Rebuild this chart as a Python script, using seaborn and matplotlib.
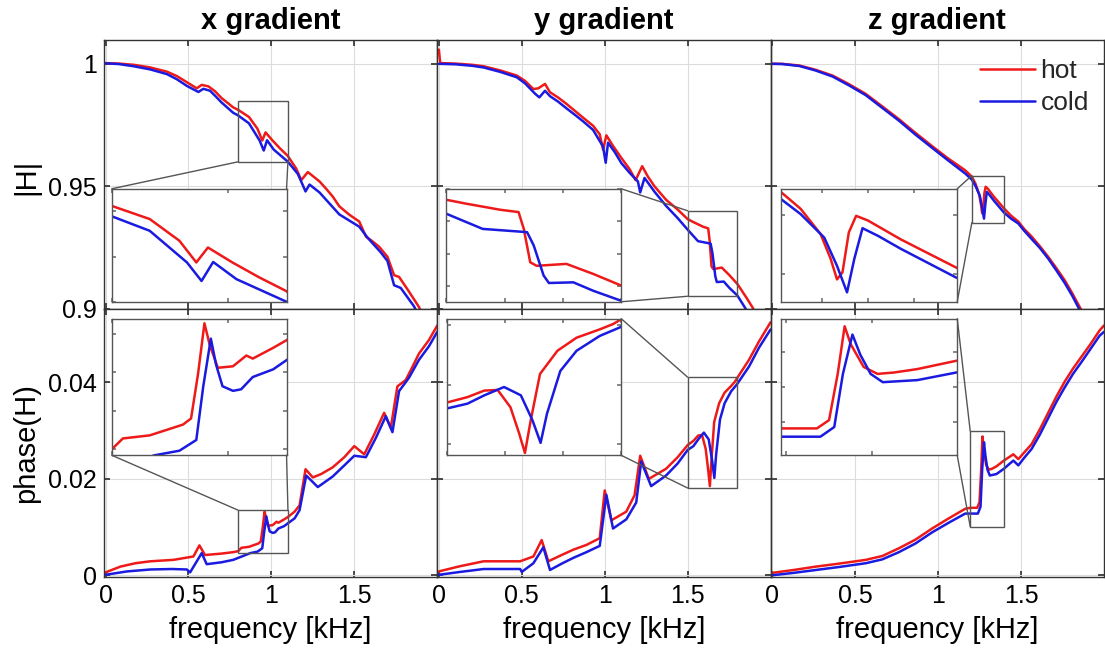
import matplotlib
matplotlib.use("Agg")
import matplotlib.pyplot as plt
import seaborn as sns
from matplotlib.patches import Rectangle, ConnectionPatch

sns.set_theme(style="ticks")
plt.rcParams['font.family'] = ['Liberation Sans', 'DejaVu Sans']

RED = '#ee1a1a'
BLUE = '#1a1ae0'
BOX = '#555555'

gradients = ["x gradient", "y gradient", "z gradient"]

# ---- |H| (top row) ----
mag_x_hot_f = [0, 0.08, 0.17, 0.27, 0.37, 0.43, 0.49, 0.55, 0.58, 0.62, 0.66, 0.70, 0.77, 0.80, 0.865, 0.916,
               0.945, 0.965, 1.007, 1.053, 1.099, 1.15, 1.18, 1.22, 1.29, 1.33, 1.37, 1.41, 1.47, 1.53, 1.57,
               1.61, 1.65, 1.70, 1.74, 1.77, 1.83, 1.89, 1.95]
mag_x_hot = [1.0003, 1.0001, 0.9996, 0.9985, 0.9968, 0.9950, 0.9925, 0.9900, 0.9914, 0.9908, 0.9888, 0.9860,
             0.9822, 0.9812, 0.9783, 0.9735, 0.9687, 0.9720, 0.9687, 0.9654, 0.9624, 0.9572, 0.9525, 0.9558,
             0.9520, 0.9490, 0.9458, 0.9418, 0.9384, 0.9356, 0.9295, 0.9275, 0.9253, 0.9212, 0.9137, 0.9130,
             0.9070, 0.9007, 0.8920]
mag_x_cold_f = [0, 0.08, 0.17, 0.27, 0.37, 0.43, 0.49, 0.56, 0.59, 0.63, 0.66, 0.70, 0.77, 0.80, 0.865, 0.929,
                0.954, 0.974, 1.014, 1.10, 1.16, 1.206, 1.23, 1.29, 1.35, 1.41, 1.47, 1.53, 1.58, 1.62, 1.66,
                1.70, 1.74, 1.78, 1.86, 1.92]
mag_x_cold = [1.0002, 0.9999, 0.9990, 0.9977, 0.9958, 0.9937, 0.9910, 0.9885, 0.9898, 0.9890, 0.9870, 0.9842,
              0.9800, 0.9789, 0.9757, 0.9687, 0.9646, 0.9688, 0.9650, 0.9600, 0.9550, 0.9479, 0.9507, 0.9475,
              0.9430, 0.9385, 0.9360, 0.9335, 0.9290, 0.9260, 0.9230, 0.9195, 0.9096, 0.9085, 0.9010, 0.8930]

mag_y_hot_f = [0, 0.008, 0.10, 0.20, 0.27, 0.37, 0.47, 0.52, 0.57, 0.60, 0.64, 0.67, 0.72, 0.77, 0.82, 0.87,
               0.93, 0.97, 0.99, 1.01, 1.05, 1.10, 1.15, 1.186, 1.226, 1.26, 1.30, 1.37, 1.44, 1.50, 1.534,
               1.593, 1.624, 1.633, 1.644, 1.655, 1.706, 1.752, 1.80, 1.85, 1.89, 1.95]
mag_y_hot = [1.0058, 1.0003, 1.0001, 0.9996, 0.9990, 0.9973, 0.9952, 0.9930, 0.9897, 0.9900, 0.9918, 0.9884,
             0.9862, 0.9836, 0.9808, 0.9780, 0.9747, 0.9712, 0.9650, 0.9708, 0.9665, 0.9616, 0.9570, 0.9525,
             0.9582, 0.9540, 0.9500, 0.9445, 0.9405, 0.9366, 0.9354, 0.9335, 0.9328, 0.9276, 0.9173, 0.9162,
             0.9168, 0.9137, 0.9101, 0.9050, 0.9007, 0.8930]
mag_y_cold_f = [0, 0.10, 0.20, 0.27, 0.37, 0.47, 0.52, 0.58, 0.606, 0.64, 0.67, 0.72, 0.77, 0.82, 0.87, 0.93,
                0.99, 1.006, 1.02, 1.06, 1.10, 1.15, 1.20, 1.214, 1.24, 1.30, 1.37, 1.44, 1.50, 1.5625, 1.6386,
                1.65, 1.667, 1.676, 1.718, 1.752, 1.80, 1.85, 1.90]
mag_y_cold = [1.0, 0.9998, 0.9992, 0.9985, 0.9967, 0.9945, 0.9920, 0.9878, 0.9863, 0.9890, 0.9868, 0.9845,
              0.9818, 0.9792, 0.9765, 0.9730, 0.9662, 0.9596, 0.9678, 0.9640, 0.9595, 0.9555, 0.9520, 0.9475,
              0.9534, 0.9478, 0.9420, 0.9370, 0.9323, 0.9276, 0.9266, 0.9225, 0.9132, 0.9109, 0.9111, 0.9085,
              0.9054, 0.9000, 0.8930]

mag_z_hot_f = [0, 0.06, 0.164, 0.26, 0.364, 0.46, 0.564, 0.66, 0.764, 0.86, 0.964, 1.06, 1.164, 1.204, 1.226,
               1.248, 1.259, 1.266, 1.272, 1.279, 1.287, 1.30, 1.336, 1.397, 1.44, 1.484, 1.52, 1.564, 1.614,
               1.664, 1.714, 1.764, 1.81, 1.854, 1.92]
mag_z_hot = [1.0, 1.0, 0.9993, 0.9976, 0.9952, 0.9918, 0.9877, 0.9828, 0.9774, 0.9720, 0.9664, 0.9614, 0.9565,
             0.9539, 0.9510, 0.9467, 0.9425, 0.9390, 0.9402, 0.9470, 0.9498, 0.9490, 0.9458, 0.9410, 0.9380,
             0.9356, 0.9325, 0.9295, 0.9255, 0.9212, 0.9165, 0.9116, 0.9062, 0.9007, 0.8930]
mag_z_cold_f = [0, 0.06, 0.164, 0.26, 0.364, 0.46, 0.564, 0.66, 0.764, 0.86, 0.964, 1.06, 1.164, 1.204, 1.226,
                1.252, 1.266, 1.277, 1.285, 1.294, 1.311, 1.336, 1.397, 1.44, 1.484, 1.52, 1.564, 1.614, 1.664,
                1.714, 1.764, 1.81, 1.85, 1.92]
mag_z_cold = [1.0, 0.9999, 0.9991, 0.9973, 0.9948, 0.9913, 0.9872, 0.9822, 0.9768, 0.9713, 0.9657, 0.9606,
              0.9552, 0.9527, 0.9501, 0.9461, 0.9413, 0.9368, 0.9425, 0.9477, 0.9464, 0.9442, 0.9393, 0.9368,
              0.9348, 0.9318, 0.9285, 0.9248, 0.9205, 0.9156, 0.9105, 0.9052, 0.9000, 0.8925]

# ---- phase(H) (bottom row) ----
ph_x_hot_f = [0, 0.09, 0.18, 0.27, 0.41, 0.53, 0.566, 0.60, 0.70, 0.77, 0.80, 0.819, 0.865, 0.922, 0.936, 0.948,
              0.959, 0.968, 0.982, 1.008, 1.031, 1.042, 1.077, 1.10, 1.14, 1.17, 1.206, 1.25, 1.30, 1.37, 1.44,
              1.50, 1.56, 1.62, 1.68, 1.72, 1.76, 1.81, 1.85, 1.89, 1.95, 2.0]
ph_x_hot = [0.0006, 0.0018, 0.0025, 0.0029, 0.0032, 0.0039, 0.0062, 0.0042, 0.0045, 0.0048, 0.0050, 0.0057,
            0.0059, 0.0066, 0.0070, 0.0099, 0.0132, 0.0118, 0.0103, 0.0104, 0.0111, 0.0109, 0.0116, 0.0121,
            0.0132, 0.0145, 0.0220, 0.0203, 0.0210, 0.0224, 0.0245, 0.0268, 0.0251, 0.0292, 0.0337, 0.0306,
            0.0392, 0.0405, 0.0432, 0.0460, 0.0488, 0.0518]
ph_x_cold_f = [0, 0.13, 0.27, 0.40, 0.49, 0.51, 0.58, 0.61, 0.70, 0.77, 0.873, 0.916, 0.945, 0.957, 0.970,
               0.979, 0.99, 1.008, 1.022, 1.042, 1.077, 1.10, 1.14, 1.17, 1.21, 1.28, 1.37, 1.44, 1.50, 1.57,
               1.63, 1.69, 1.73, 1.77, 1.83, 1.89, 1.95, 2.0]
ph_x_cold = [0.0001, 0.0008, 0.0012, 0.0013, 0.0012, 0.0006, 0.0046, 0.0023, 0.0027, 0.0032, 0.0046, 0.0049,
             0.0056, 0.0091, 0.0122, 0.0105, 0.0091, 0.0088, 0.0089, 0.0097, 0.0102, 0.0108, 0.0118, 0.0135,
             0.0207, 0.0183, 0.0205, 0.0228, 0.0248, 0.0245, 0.0285, 0.0330, 0.0297, 0.0382, 0.0410, 0.0447,
             0.0475, 0.0505]

ph_y_hot_f = [0, 0.13, 0.27, 0.49, 0.57, 0.62, 0.66, 0.74, 0.81, 0.89, 0.97, 1.0, 1.04, 1.13, 1.18, 1.214,
              1.266, 1.37, 1.44, 1.50, 1.535, 1.564, 1.587, 1.609, 1.624, 1.634, 1.644, 1.66, 1.69, 1.723,
              1.763, 1.786, 1.80, 1.87, 1.93, 2.0]
ph_y_hot = [0.0008, 0.0019, 0.0029, 0.0029, 0.0039, 0.0073, 0.0029, 0.0042, 0.0053, 0.0063, 0.0077, 0.0176,
            0.0114, 0.0132, 0.0166, 0.0248, 0.0200, 0.0221, 0.0245, 0.0270, 0.0279, 0.0290, 0.0291, 0.0262,
            0.0218, 0.0185, 0.0240, 0.0318, 0.0357, 0.0379, 0.0393, 0.0402, 0.0410, 0.0447, 0.0485, 0.0525]
ph_y_cold_f = [0, 0.13, 0.27, 0.49, 0.50, 0.57, 0.63, 0.67, 0.74, 0.81, 0.89, 0.97, 1.01, 1.05, 1.13, 1.19,
               1.22, 1.28, 1.37, 1.44, 1.50, 1.535, 1.564, 1.598, 1.627, 1.647, 1.661, 1.672, 1.695, 1.723,
               1.763, 1.797, 1.87, 1.93, 2.0]
ph_y_cold = [0.0001, 0.0007, 0.0013, 0.0013, 0.0007, 0.0025, 0.0058, 0.0011, 0.0024, 0.0036, 0.0048, 0.0061,
             0.0167, 0.0097, 0.0116, 0.0151, 0.0236, 0.0185, 0.0207, 0.0232, 0.0260, 0.0268, 0.0282, 0.0296,
             0.0282, 0.0240, 0.0202, 0.0251, 0.0323, 0.0357, 0.0382, 0.0396, 0.0433, 0.0472, 0.0510]

ph_z_hot_f = [0, 0.13, 0.264, 0.40, 0.564, 0.664, 0.764, 0.864, 0.964, 1.064, 1.164, 1.194, 1.236, 1.25, 1.26,
              1.268, 1.275, 1.29, 1.306, 1.325, 1.352, 1.397, 1.454, 1.484, 1.52, 1.564, 1.614, 1.664, 1.714,
              1.764, 1.814, 1.864, 1.92, 1.974, 2.0]
ph_z_hot = [0.0005, 0.0011, 0.0018, 0.0024, 0.0032, 0.0040, 0.0056, 0.0074, 0.0097, 0.0118, 0.0138, 0.0140,
            0.0140, 0.0152, 0.0219, 0.0288, 0.0262, 0.0229, 0.0219, 0.0221, 0.0226, 0.0238, 0.0251, 0.0241,
            0.0255, 0.0272, 0.0303, 0.0337, 0.0371, 0.0402, 0.0429, 0.0453, 0.0480, 0.0508, 0.0518]
ph_z_cold_f = [0, 0.13, 0.264, 0.40, 0.564, 0.664, 0.764, 0.864, 0.964, 1.064, 1.164, 1.194, 1.24, 1.256,
               1.266, 1.277, 1.286, 1.298, 1.312, 1.352, 1.397, 1.454, 1.484, 1.52, 1.564, 1.614, 1.664, 1.714,
               1.764, 1.814, 1.864, 1.92, 1.974, 2.0]
ph_z_cold = [0.0, 0.0005, 0.0011, 0.0017, 0.0025, 0.0033, 0.0048, 0.0066, 0.0089, 0.0109, 0.0128, 0.0128,
             0.0128, 0.0142, 0.0219, 0.0276, 0.0247, 0.0219, 0.0207, 0.0210, 0.0221, 0.0238, 0.0228, 0.0244,
             0.0262, 0.0292, 0.0326, 0.0360, 0.0390, 0.0418, 0.0442, 0.0470, 0.0497, 0.0505]

freq_ticks = [0, 0.5, 1, 1.5]
freq_labels = ['0', '0.5', '1', '1.5']
mag_ticks = [0.9, 0.95, 1]
mag_labels = ['0.9', '0.95', '1']
ph_ticks = [0, 0.02, 0.04]
ph_labels = ['0', '0.02', '0.04']

# zoom windows (x0, x1, y0, y1) and inset placement
zooms = [
    [(0.80, 1.10, 0.9600, 0.9850), (1.50, 1.80, 0.9051, 0.9400), (1.204, 1.398, 0.9352, 0.9544)],
    [(0.80, 1.10, 0.0046, 0.0135), (1.50, 1.80, 0.0181, 0.0411), (1.194, 1.398, 0.0101, 0.0299)],
]
inset_pos = [
    [[0.024, 0.026, 0.524, 0.421], [0.027, 0.026, 0.525, 0.421], [0.030, 0.026, 0.530, 0.421]],
    [[0.024, 0.454, 0.524, 0.509], [0.030, 0.454, 0.522, 0.509], [0.030, 0.454, 0.530, 0.509]],
]
# connector corners: (inset corner, window corner)
links = [
    [[((0, 1), 'll'), ((1, 1), 'lr')], [((1, 1), 'ul'), ((1, 0), 'll')], [((1, 1), 'ul'), ((1, 0), 'll')]],
    [[((0, 0), 'ul'), ((1, 0), 'ur')], [((1, 1), 'ul'), ((1, 0), 'll')], [((1, 1), 'ul'), ((1, 0), 'll')]],
]

series = [
    [(mag_x_hot_f, mag_x_hot, mag_x_cold_f, mag_x_cold),
     (mag_y_hot_f, mag_y_hot, mag_y_cold_f, mag_y_cold),
     (mag_z_hot_f, mag_z_hot, mag_z_cold_f, mag_z_cold)],
    [(ph_x_hot_f, ph_x_hot, ph_x_cold_f, ph_x_cold),
     (ph_y_hot_f, ph_y_hot, ph_y_cold_f, ph_y_cold),
     (ph_z_hot_f, ph_z_hot, ph_z_cold_f, ph_z_cold)],
]


def draw(ax, hf, hv, cf, cv, lw):
    sns.lineplot(x=hf, y=hv, color=RED, lw=lw, ax=ax, sort=False, estimator=None,
                 solid_joinstyle='round')
    sns.lineplot(x=cf, y=cv, color=BLUE, lw=lw, ax=ax, sort=False, estimator=None,
                 solid_joinstyle='round')


fig, axes = plt.subplots(2, 3, figsize=(11.05, 6.5), dpi=100, sharex=True, sharey='row')
fig.subplots_adjust(left=0.094, right=0.999, top=0.938, bottom=0.112, wspace=0, hspace=0)

for r in range(2):
    for c in range(3):
        ax = axes[r, c]
        hf, hv, cf, cv = series[r][c]
        draw(ax, hf, hv, cf, cv, 1.8)
        ax.set_xlim(-0.01, 2.0)
        if r == 0:
            ax.set_ylim(0.9, 1.0096)
            ax.set_yticks(mag_ticks)
            ax.set_yticklabels(mag_labels)
            ax.set_title(gradients[c], fontsize=21, fontweight='bold', color='black', pad=8)
        else:
            ax.set_ylim(-0.0004, 0.0553)
            ax.set_yticks(ph_ticks)
            ax.set_yticklabels(ph_labels)
            ax.set_xlabel('frequency [kHz]', fontsize=21, labelpad=6, color='black')
        ax.set_xticks(freq_ticks)
        ax.set_xticklabels(freq_labels)
        ax.grid(True, color='#dcdcdc', lw=0.8)
        ax.tick_params(direction='in', length=4, top=True, right=True, labelsize=18, pad=5,
                       colors='#333333', labelcolor='black')
        for s in ax.spines.values():
            s.set_color('#333333')
            s.set_linewidth(1.0)

        x0, x1, y0, y1 = zooms[r][c]
        ax.add_patch(Rectangle((x0, y0), x1 - x0, y1 - y0, fill=False, ec=BOX, lw=1.0, zorder=5))

        axin = ax.inset_axes(inset_pos[r][c])
        axin.set_zorder(6)
        draw(axin, hf, hv, cf, cv, 1.8)
        axin.set_xlim(x0, x1)
        axin.set_ylim(y0, y1)
        axin.set_xlabel('')
        axin.set_ylabel('')
        axin.set_facecolor('white')
        axin.tick_params(direction='in', length=3, labelbottom=False, labelleft=False,
                         top=True, right=True, colors='#777777')
        for s in axin.spines.values():
            s.set_color(BOX)
            s.set_linewidth(1.0)

        corners = {'ll': (x0, y0), 'lr': (x1, y0), 'ul': (x0, y1), 'ur': (x1, y1)}
        for inset_corner, win in links[r][c]:
            con = ConnectionPatch(xyA=inset_corner, coordsA=axin.transAxes,
                                  xyB=corners[win], coordsB=ax.transData,
                                  color=BOX, lw=1.0, zorder=4)
            fig.add_artist(con)

axes[0, 0].set_ylabel('|H|', fontsize=21, color='black')
axes[1, 0].set_ylabel('phase(H)', fontsize=21, color='black')
axes[0, 0].yaxis.set_label_coords(-0.19, 0.49)
axes[1, 0].yaxis.set_label_coords(-0.19, 0.5)

lines = axes[0, 2].get_lines()
axes[0, 2].legend(lines[:2], ['hot', 'cold'], loc='upper right', bbox_to_anchor=(0.955, 0.93),
                  frameon=False, fontsize=19, handlelength=2.1, handletextpad=0.2,
                  labelspacing=0.3, borderaxespad=0, borderpad=0)

fig.savefig('out.png', dpi=100)
